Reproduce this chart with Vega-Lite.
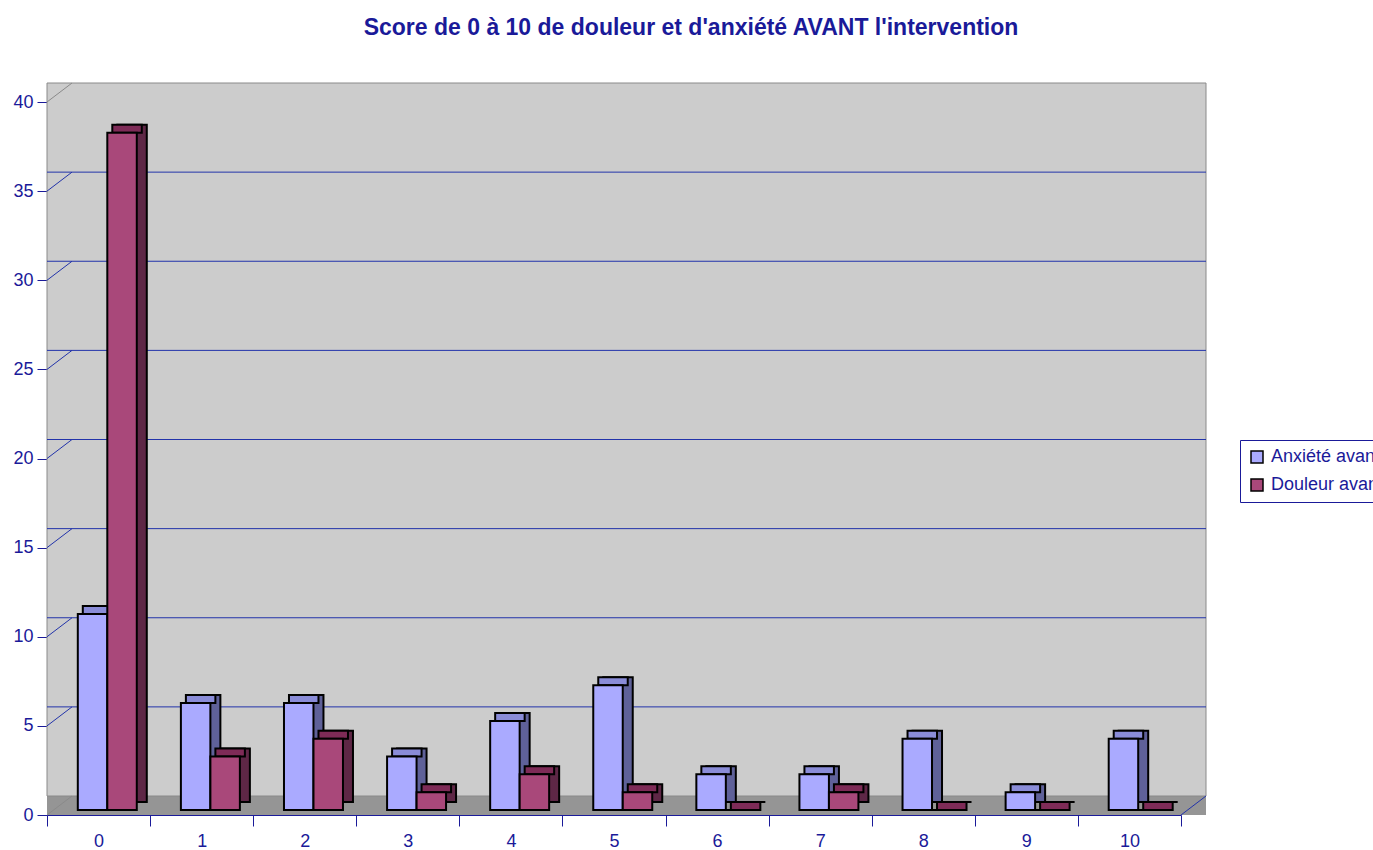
{
  "$schema": "https://vega.github.io/schema/vega-lite/v6.json",
  "width": 1134,
  "height": 713,
  "autosize": {"type": "none"},
  "padding": {"left": 47, "top": 102, "right": 192, "bottom": 35},
  "background": "white",
  "title": {
    "text": "Score de 0 à 10 de douleur et d'anxiété AVANT l'intervention",
    "font": "Liberation Sans",
    "fontSize": 23,
    "fontWeight": "bold",
    "color": "#1a1a99",
    "anchor": "middle",
    "frame": "group",
    "offset": 43,
    "dx": 77
  },
  "datasets": {
    "bars": [
      {"score": 0, "serie": "Anxiété avant", "n": 11},
      {"score": 0, "serie": "Douleur avant", "n": 38},
      {"score": 1, "serie": "Anxiété avant", "n": 6},
      {"score": 1, "serie": "Douleur avant", "n": 3},
      {"score": 2, "serie": "Anxiété avant", "n": 6},
      {"score": 2, "serie": "Douleur avant", "n": 4},
      {"score": 3, "serie": "Anxiété avant", "n": 3},
      {"score": 3, "serie": "Douleur avant", "n": 1},
      {"score": 4, "serie": "Anxiété avant", "n": 5},
      {"score": 4, "serie": "Douleur avant", "n": 2},
      {"score": 5, "serie": "Anxiété avant", "n": 7},
      {"score": 5, "serie": "Douleur avant", "n": 1},
      {"score": 6, "serie": "Anxiété avant", "n": 2},
      {"score": 6, "serie": "Douleur avant", "n": 0},
      {"score": 7, "serie": "Anxiété avant", "n": 2},
      {"score": 7, "serie": "Douleur avant", "n": 1},
      {"score": 8, "serie": "Anxiété avant", "n": 4},
      {"score": 8, "serie": "Douleur avant", "n": 0},
      {"score": 9, "serie": "Anxiété avant", "n": 1},
      {"score": 9, "serie": "Douleur avant", "n": 0},
      {"score": 10, "serie": "Anxiété avant", "n": 4},
      {"score": 10, "serie": "Douleur avant", "n": 0}
    ],
    "grid": [{"v": 5}, {"v": 10}, {"v": 15}, {"v": 20}, {"v": 25}, {"v": 30}, {"v": 35}],
    "edges": [{"v": 0}, {"v": 40}],
    "one": [{"k": 1}]
  },
  "resolve": {"scale": {"x": "independent"}},
  "layer": [
    {
      "data": {"name": "one"},
      "mark": {"type": "rect", "fill": "#cccccc", "yOffset": -19, "y2Offset": 0, "xOffset": 0},
      "encoding": {"y": {"datum": 40}, "y2": {"datum": 0}}
    },
    {
      "data": {"name": "one"},
      "mark": {"type": "rect", "fill": "#cccccc", "yOffset": -19, "y2Offset": -19, "xOffset": 25},
      "encoding": {"y": {"datum": 40}, "y2": {"datum": 0}}
    },
    {
      "data": {"name": "one"},
      "mark": {"type": "rect", "fill": "#959595", "yOffset": 0, "y2Offset": -19, "xOffset": 0},
      "encoding": {"y": {"datum": 0}, "y2": {"datum": 0}}
    },
    {
      "data": {"name": "one"},
      "mark": {"type": "rect", "fill": "#959595", "yOffset": 0, "y2Offset": -19, "xOffset": 25},
      "encoding": {"y": {"datum": 0}, "y2": {"datum": 0}}
    },
    {
      "data": {"name": "one"},
      "mark": {"type": "rect", "fill": null, "fillOpacity": 0, "stroke": "#8a8a8a", "strokeWidth": 1, "yOffset": -19, "y2Offset": -19, "xOffset": 25},
      "encoding": {"y": {"datum": 40}, "y2": {"datum": 0}}
    },
    {
      "data": {"name": "grid"},
      "mark": {"type": "rule", "color": "#2233aa", "strokeWidth": 1, "yOffset": -19, "xOffset": 25, "x2Offset": 25},
      "encoding": {"y": {"field": "v", "type": "quantitative", "title": null}}
    },
    {
      "layer": [
        {
          "data": {"name": "grid"},
          "mark": {"type": "rule", "color": "#2233aa", "strokeWidth": 1, "y2Offset": -19, "x2Offset": 25},
          "encoding": {
            "x": {"datum": 0, "type": "quantitative", "scale": {"domain": [0, 1]}, "axis": null},
            "x2": {"datum": 0},
            "y": {"field": "v", "type": "quantitative", "title": null},
            "y2": {"field": "v"}
          }
        },
        {
          "data": {"name": "edges"},
          "mark": {"type": "rule", "color": "#8a8a8a", "strokeWidth": 1, "y2Offset": -19, "x2Offset": 25},
          "encoding": {
            "x": {"datum": 0, "type": "quantitative", "scale": {"domain": [0, 1]}, "axis": null},
            "x2": {"datum": 0},
            "y": {"field": "v", "type": "quantitative", "title": null},
            "y2": {"field": "v"}
          }
        },
        {
          "data": {"name": "one"},
          "mark": {"type": "rule", "color": "#2233aa", "strokeWidth": 1, "y2Offset": -19, "x2Offset": 25},
          "encoding": {
            "x": {"datum": 1, "type": "quantitative", "scale": {"domain": [0, 1]}, "axis": null},
            "x2": {"datum": 1},
            "y": {"datum": 0},
            "y2": {"datum": 0}
          }
        }
      ]
    },
    {
      "layer": [
        {
          "data": {"name": "bars"},
          "transform": [{"filter": "datum.serie === 'Anxiété avant'"}],
          "mark": {"type": "bar", "fill": "#5f6199", "stroke": "black", "strokeWidth": 2, "width": {"band": 0.286}, "xOffset": 4, "yOffset": -13, "y2Offset": -13},
          "encoding": {
            "x": {"field": "score", "type": "ordinal", "title": null},
            "y": {"field": "n", "type": "quantitative", "title": null}
          }
        },
        {
          "data": {"name": "bars"},
          "transform": [{"filter": "datum.serie === 'Douleur avant'"}],
          "mark": {"type": "bar", "fill": "#5e2746", "stroke": "black", "strokeWidth": 2, "width": {"band": 0.286}, "xOffset": 33.5, "yOffset": -13, "y2Offset": -13},
          "encoding": {
            "x": {"field": "score", "type": "ordinal", "title": null},
            "y": {"field": "n", "type": "quantitative", "title": null}
          }
        },
        {
          "data": {"name": "bars"},
          "transform": [{"filter": "datum.serie === 'Anxiété avant'"}],
          "mark": {"type": "bar", "fill": "#8a8cd8", "stroke": "black", "strokeWidth": 2, "width": {"band": 0.286}, "xOffset": -1, "yOffset": -13, "y2Offset": -5},
          "encoding": {
            "x": {"field": "score", "type": "ordinal", "title": null},
            "y": {"field": "n", "type": "quantitative", "title": null},
            "y2": {"field": "n"}
          }
        },
        {
          "data": {"name": "bars"},
          "transform": [{"filter": "datum.serie === 'Douleur avant'"}],
          "mark": {"type": "bar", "fill": "#7e2b57", "stroke": "black", "strokeWidth": 2, "width": {"band": 0.286}, "xOffset": 28.5, "yOffset": -13, "y2Offset": -5},
          "encoding": {
            "x": {"field": "score", "type": "ordinal", "title": null},
            "y": {"field": "n", "type": "quantitative", "title": null},
            "y2": {"field": "n"}
          }
        },
        {
          "data": {"name": "bars"},
          "transform": [{"filter": "datum.serie === 'Anxiété avant'"}],
          "mark": {"type": "bar", "stroke": "black", "strokeWidth": 2, "width": {"band": 0.286}, "xOffset": -6, "yOffset": -5, "y2Offset": -5, "opacity": 1},
          "encoding": {
            "x": {"field": "score", "type": "ordinal", "title": null},
            "y": {"field": "n", "type": "quantitative", "title": null},
            "color": {"field": "serie", "type": "nominal"}
          }
        },
        {
          "data": {"name": "bars"},
          "transform": [{"filter": "datum.serie === 'Douleur avant'"}],
          "mark": {"type": "bar", "stroke": "black", "strokeWidth": 2, "width": {"band": 0.286}, "xOffset": 23.5, "yOffset": -5, "y2Offset": -5, "opacity": 1},
          "encoding": {
            "x": {"field": "score", "type": "ordinal", "title": null, "scale": {"paddingInner": 0, "paddingOuter": 0}},
            "y": {"field": "n", "type": "quantitative", "title": null, "scale": {"domain": [0, 40], "nice": false}},
            "color": {
              "field": "serie",
              "type": "nominal",
              "scale": {"domain": ["Anxiété avant", "Douleur avant"], "range": ["#aaaaff", "#a9487a"]},
              "legend": {
                "title": null,
                "orient": "none",
                "legendX": 1193,
                "legendY": 338,
                "strokeColor": "#1a1a99",
                "padding": 8,
                "symbolType": "square",
                "symbolSize": 144,
                "symbolStrokeColor": "black",
                "symbolStrokeWidth": 1.5,
                "symbolOpacity": 1,
                "labelFont": "Liberation Sans",
                "labelFontSize": 18,
                "labelColor": "#1a1a99",
                "labelLimit": 0,
                "labelOffset": 5,
                "rowPadding": 10
              }
            }
          }
        }
      ]
    }
  ],
  "config": {
    "view": {"stroke": null},
    "axis": {
      "labelFont": "Liberation Sans",
      "labelFontSize": 18,
      "labelColor": "#1a1a99",
      "domainColor": "#1a1a99",
      "tickColor": "#1a1a99",
      "domainWidth": 1,
      "tickWidth": 1,
      "grid": false
    },
    "axisY": {"tickCount": 8, "tickSize": 10, "labelPadding": 4},
    "axisX": {"tickBand": "extent", "tickSize": 11, "labelAngle": 0, "labelPadding": 6}
  }
}
